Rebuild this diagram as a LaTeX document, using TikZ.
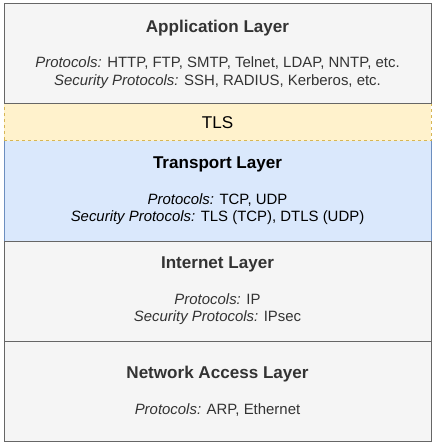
\documentclass[tikz,border=0pt]{standalone}
\usepackage{fontspec}
\setmainfont{Liberation Sans}
\definecolor{grayfill}{HTML}{F5F5F5}
\definecolor{grayline}{HTML}{666666}
\definecolor{graytext}{HTML}{333333}
\definecolor{bluefill}{HTML}{DAE8FC}
\definecolor{blueline}{HTML}{6C8EBF}
\definecolor{yellowfill}{HTML}{FFF2CC}
\definecolor{yellowline}{HTML}{D6B656}
\newcommand{\layertitle}[1]{{\fontsize{12.8}{15}\selectfont\bfseries #1}}
\begin{document}
\begin{tikzpicture}[x=0.75pt, y=-0.75pt, line width=0.75pt, font=\fontsize{11.2}{12.9}\selectfont]
\tikzstyle{layer} = [rectangle, draw=grayline, fill=grayfill, text=graytext, align=center, minimum width=320.25pt, minimum height=75pt, inner sep=0pt]
\tikzstyle{transport} = [layer, draw=blueline, fill=bluefill, text=black]
\tikzstyle{tlsband} = [rectangle, draw=yellowline, fill=yellowfill, dash pattern=on 2.25pt off 2.25pt, minimum width=320.25pt, minimum height=27.75pt, inner sep=0pt, font=\fontsize{12.8}{15}\selectfont]
\useasboundingbox (0,0) rectangle (435,445);
% transport first, so the dashed band and the layer above sit on its border
\node (trans) at (217.5,191) [transport] {\layertitle{Transport Layer}\\[14pt]
  \textit{Protocols:} TCP, UDP\\
  \textit{Security Protocols:} TLS (TCP), DTLS (UDP)};
\node (tls) at (217.5,122.5) [tlsband] {TLS};
\node (app) at (217.5,54) [layer] {\layertitle{Application Layer}\\[14pt]
  \textit{Protocols:} HTTP, FTP, SMTP, Telnet, LDAP, NNTP, etc.\\
  \textit{Security Protocols:} SSH, RADIUS, Kerberos, etc.};
\node (inet) at (217.5,291) [layer] {\layertitle{Internet Layer}\\[14pt]
  \textit{Protocols:} IP\\
  \textit{Security Protocols:} IPsec};
\node (net) at (217.5,391) [layer] {\layertitle{Network Access Layer}\\[14pt]
  \textit{Protocols:} ARP, Ethernet};
\end{tikzpicture}
\end{document}
